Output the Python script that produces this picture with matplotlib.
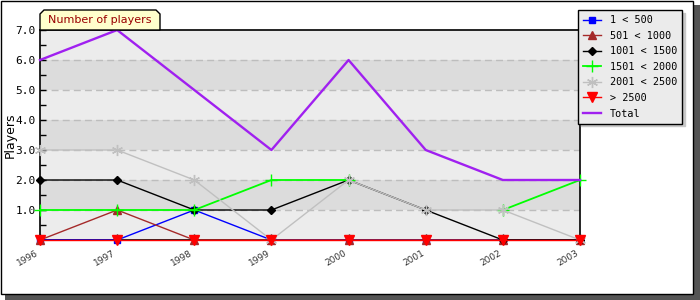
import matplotlib
matplotlib.use("Agg")
import matplotlib.pyplot as plt
from matplotlib.patches import Rectangle, Polygon
import numpy as np

years = [1996, 1997, 1998, 1999, 2000, 2001, 2002, 2003]
labels = ["1 < 500", "501 < 1000", "1001 < 1500", "1501 < 2000", "2001 < 2500", "> 2500", "Total"]

s_1_500 = [0, 0, 1, 0, 0, 0, 0, 0]
s_501_1000 = [0, 1, 0, 0, 0, 0, 0, 0]
s_1001_1500 = [2, 2, 1, 1, 2, 1, 0, 0]
s_1501_2000 = [1, 1, 1, 2, 2, np.nan, 1, 2]
s_2001_2500 = [3, 3, 2, 0, 2, 1, 1, 0]
s_2500 = [0, 0, 0, 0, 0, 0, 0, 0]
total = [6, 7, 5, 3, 6, 3, 2, 2]

fig = plt.figure(figsize=(7, 3), dpi=100)
W, H = 700, 300

# outer frame with shadow
fig.patches.append(Rectangle((5 / W, 0), 695 / W, 295 / H, transform=fig.transFigure,
                             facecolor="#555555", edgecolor="none", zorder=0))
fig.patches.append(Rectangle((0.5 / W, 6 / H), 692 / W, 293 / H, transform=fig.transFigure,
                             facecolor="white", edgecolor="black", lw=1, zorder=1))

ax = fig.add_axes([40 / W, 60 / H, 540 / W, 210 / H])
ax.set_zorder(2)

# alternating bands
for i in range(7):
    ax.axhspan(i, i + 1, color="#ececec" if i % 2 == 0 else "#dcdcdc", lw=0, zorder=0)
for y in range(1, 7):
    ax.axhline(y, color="#bdbdbd", lw=1, ls=(0, (5, 3)), zorder=1)

series = [
    (s_1_500, "#0000ff", "s", 5, 1),
    (s_501_1000, "#a52a2a", "^", 6, 1),
    (s_1001_1500, "#000000", "D", 4.5, 1),
    (s_1501_2000, "#00ff00", "+", 9, 1.3),
    (s_2001_2500, "#c0c0c0", (6, 2, 0), 8, 1),
    (s_2500, "#ff0000", "v", 6.5, 1),
]
for (vals, col, mk, ms, lw), lab in zip(series, labels):
    ax.plot(years, vals, color=col, marker=mk, markersize=ms, lw=lw, label=lab,
            clip_on=False, zorder=3)
ax.plot(years, total, color="#a020f0", lw=1.7, label=labels[-1], clip_on=False, zorder=3)

ax.set_xlim(1996, 2003)
ax.set_ylim(0, 7)
ax.set_xticks(years)
ax.set_xticklabels([str(y) for y in years], rotation=30, ha="right",
                   fontsize=6.5, color="#333333")
ax.set_yticks([1, 2, 3, 4, 5, 6, 7])
ax.set_yticklabels(["1.0", "2.0", "3.0", "4.0", "5.0", "6.0", "7.0"],
                   fontsize=8, family="DejaVu Sans Mono")
ax.set_yticks(np.arange(0.5, 7, 1.0), minor=True)
ax.tick_params(axis="both", which="both", direction="in", length=4, width=1)
ax.tick_params(axis="y", pad=3)
ax.tick_params(axis="x", pad=6)
for sp in ax.spines.values():
    sp.set_linewidth(1.2)
ax.set_ylabel("Players", fontsize=9)
ax.yaxis.set_label_coords(-0.043, 0.5)

# title tab
x0, x1, y0, y1, c = 40 / W, 160 / W, 1 - 30 / H, 1 - 10 / H, 4
tab = Polygon([(x0, y0), (x0, y1 - c / H), (x0 + c / W, y1), (x1 - c / W, y1),
               (x1, y1 - c / H), (x1, y0)], closed=True, transform=fig.transFigure,
              facecolor="#ffffcc", edgecolor="black", lw=1, zorder=3)
fig.patches.append(tab)
fig.text((x0 + x1) / 2, (y0 + y1) / 2, "Number of players", ha="center", va="center",
         fontsize=8, color="#990000", zorder=4)

leg = fig.legend(loc="upper left", bbox_to_anchor=(573 / W, 1 - 5 / H), fancybox=False,
                 edgecolor="black", facecolor="#ebebeb", framealpha=1,
                 prop={"family": "DejaVu Sans Mono", "size": 7.3},
                 handlelength=1.8, handletextpad=0.8, labelspacing=0.55,
                 borderpad=0.5, shadow={"color": "#c8c8c8", "alpha": 1})
leg.get_frame().set_linewidth(1)

fig.savefig("out.png", dpi=100)
